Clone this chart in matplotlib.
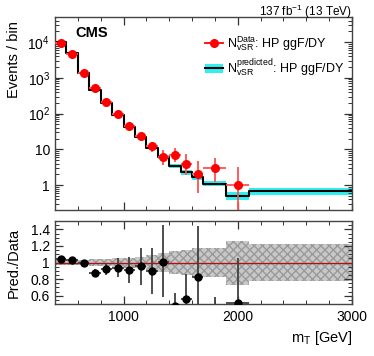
import numpy as np
import matplotlib
matplotlib.use("Agg")
import matplotlib.pyplot as plt
import matplotlib.ticker as mtick
from matplotlib.patches import Patch
from matplotlib.lines import Line2D

plt.rcParams['font.family'] = ['Liberation Sans', 'DejaVu Sans']
plt.rcParams['mathtext.fontset'] = 'custom'
plt.rcParams['mathtext.rm'] = 'Liberation Sans'
plt.rcParams['mathtext.it'] = 'Liberation Sans:italic'
plt.rcParams['mathtext.bf'] = 'Liberation Sans:bold'

# binning (GeV)
edges = [400, 500, 600, 700, 800, 900, 1000, 1100, 1200, 1300, 1400,
         1500, 1600, 1700, 1900, 2100, 3000]

# prediction per bin and its relative uncertainty
pred = [10100, 4850, 1380, 465, 193, 94, 42, 22, 10.9, 6.1, 3.4,
        2.3, 1.65, 1.1, 0.51, 0.68]
pred_rel = [0.025, 0.03, 0.035, 0.04, 0.045, 0.05, 0.06, 0.07, 0.09, 0.11,
            0.14, 0.15, 0.17, 0.17, 0.265, 0.22]

# observed data (first 15 bins)
data = [9700, 4700, 1400, 530, 210, 100, 46, 23, 12, 6, 7, 4, 2, 3, 1]
data_lo = [98, 69, 37, 23, 14.5, 10, 6.8, 4.8, 3.4, 2.4, 2.6, 2.1, 1.4, 1.8, 0.9]
data_hi = [99, 70, 38, 24, 15.5, 11, 7.8, 5.8, 4.5, 3.6, 3.8, 3.2, 2.6, 2.9, 2.3]

# ratio pred/data
ratio = [1.045, 1.035, 0.99, 0.88, 0.92, 0.94, 0.91, 0.96, 0.895, 1.01,
         0.48, 0.565, 0.83, 0.37, 0.51]
ratio_lo = [0.012, 0.016, 0.027, 0.045, 0.07, 0.11, 0.16, 0.23, 0.28, 0.43,
            0.18, 0.28, 0.6, 0.2, 0.45]
ratio_hi = [0.012, 0.016, 0.027, 0.045, 0.07, 0.11, 0.156, 0.22, 0.28, 0.44,
            0.155, 0.3, 0.61, 0.21, 0.55]

edges = np.array(edges, dtype=float)
pred = np.array(pred)
pred_rel = np.array(pred_rel)
ndat = len(data)
centers = 0.5 * (edges[:-1] + edges[1:])[:ndat]
halfw = 0.5 * np.diff(edges)[:ndat]

CYAN = '#2ff0f0'

fig = plt.figure(figsize=(3.74, 3.56), dpi=100)
ax = fig.add_axes([0.147, 0.410, 0.794, 0.542])
axr = fig.add_axes([0.147, 0.146, 0.794, 0.233])

# ---- upper panel
ystep = np.append(pred, pred[-1])
rstep = np.append(pred_rel, pred_rel[-1])
ax.fill_between(edges, ystep * (1 - rstep), ystep * (1 + rstep),
                step='post', facecolor=CYAN, edgecolor='none', lw=0, zorder=1)
ax.step(edges, ystep, where='post', color='black', lw=1.5, zorder=2)
ax.errorbar(centers, data, yerr=[data_lo, data_hi], xerr=halfw, fmt='o',
            color='red', ms=5.5, ecolor='#ff5050', elinewidth=1.3,
            capsize=0, zorder=3)

ax.set_yscale('log')
ax.set_xlim(400, 3000)
ax.set_ylim(0.2, 5e4)
ax.set_yticks([1, 10, 100, 1000, 10000])
ax.set_yticklabels(['1', '10', r'$10^2$', r'$10^3$', r'$10^4$'])
ax.yaxis.set_minor_locator(mtick.LogLocator(base=10, subs=np.arange(2, 10)))
ax.yaxis.set_minor_formatter(mtick.NullFormatter())
ax.set_ylabel('Events / bin', fontsize=10.5)
ax.yaxis.set_label_coords(-0.115, 0.78)

ax.text(0.07, 0.955, 'CMS', transform=ax.transAxes, fontsize=10.5,
        fontweight='bold', va='top', ha='left')
fig.text(0.941, 0.992, r'137 fb$^{-1}$ (13 TeV)', fontsize=8.5,
         ha='right', va='top')

h_data = Line2D([], [], color='red', marker='o', ms=5.5, lw=1.3,
                markeredgecolor='red')
h_pred = (Patch(facecolor=CYAN, edgecolor='none'),
          Line2D([], [], color='black', lw=1.5))
leg = ax.legend([h_data, h_pred],
                [r'$\mathrm{N}^{\mathrm{Data}}_{\mathrm{vSR}}$: HP ggF/DY',
                 r'$\mathrm{N}^{\mathrm{predicted}}_{\mathrm{vSR}}$: HP ggF/DY'],
                loc='upper right', bbox_to_anchor=(1.0, 0.95), frameon=False,
                fontsize=9, handlelength=1.5, handletextpad=0.3,
                labelspacing=0.35, borderaxespad=0.2)

# ---- ratio panel
axr.fill_between(edges, 1 - rstep, 1 + rstep, step='post', facecolor='#c8c8c8',
                 edgecolor='#9a9a9a', hatch='xxxx', lw=0, zorder=1)
axr.axhline(1.0, color='#b01010', lw=1.0, zorder=2)
axr.errorbar(centers, ratio, yerr=[ratio_lo, ratio_hi], xerr=halfw, fmt='o',
             color='black', ms=5, ecolor='#404040', elinewidth=1.3,
             capsize=0, zorder=3)
axr.set_xlim(400, 3000)
axr.set_ylim(0.5, 1.5)
axr.set_yticks([0.6, 0.8, 1.0, 1.2, 1.4])
axr.set_yticklabels(['0.6', '0.8', '1', '1.2', '1.4'])
axr.yaxis.set_minor_locator(mtick.MultipleLocator(0.05))
axr.set_ylabel('Pred./Data', fontsize=10.5)
axr.yaxis.set_label_coords(-0.115, 0.5)
axr.set_xlabel(r'$\mathrm{m_T}$ [GeV]', fontsize=10.5, loc='right')

for a in (ax, axr):
    a.set_xticks([1000, 2000, 3000])
    a.xaxis.set_minor_locator(mtick.MultipleLocator(200))
    a.tick_params(which='both', direction='in', top=True, right=True,
                  labelsize=10, color='#333333')
    a.tick_params(which='major', length=6, width=0.9)
    a.tick_params(which='minor', length=3, width=0.7)
    for s in a.spines.values():
        s.set_color('#444444')
        s.set_linewidth(1.0)
ax.tick_params(labelbottom=False)
axr.tick_params(axis='x', pad=4)

fig.savefig('out.png', dpi=100)
